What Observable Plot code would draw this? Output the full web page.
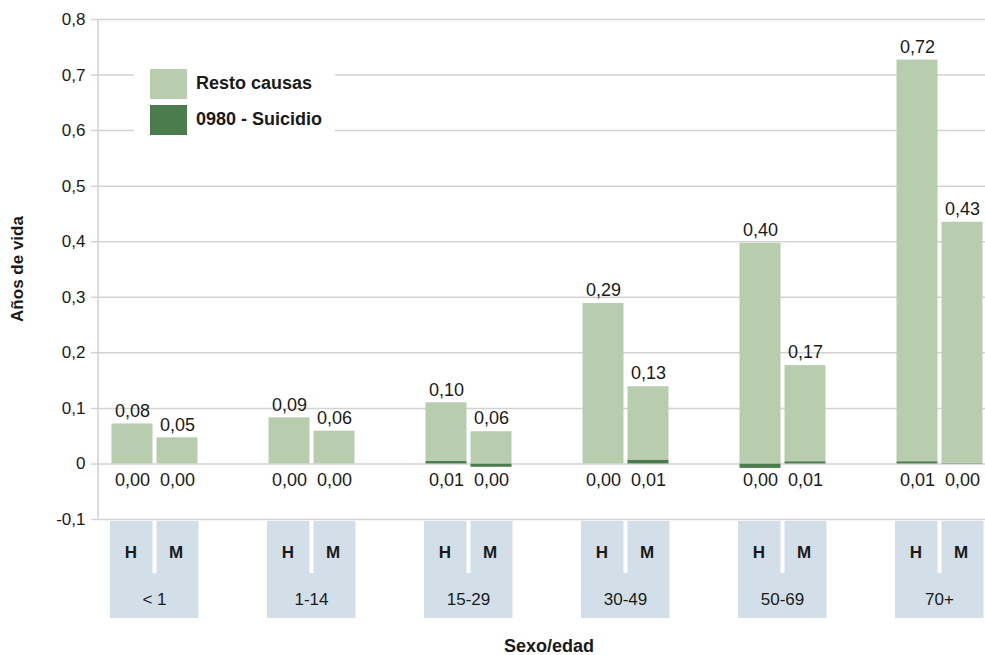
<!DOCTYPE html>
<html><head><meta charset="utf-8">
<script src="https://cdn.jsdelivr.net/npm/d3@7"></script>
<script src="https://cdn.jsdelivr.net/npm/@observablehq/plot@0.6"></script>
<style>
body{margin:0;background:#fff}
#chart{position:relative;width:985px;height:655px}
</style>
</head><body><div id="chart"></div>
<script>
// ---- data ----
const ages = ["< 1", "1-14", "15-29", "30-49", "50-69", "70+"];
const sexes = ["H", "M"];
const causes = ["0980 - Suicidio", "Resto causas"];
const restoH = [0.072, 0.083, 0.105, 0.289, 0.397, 0.723];
const restoM = [0.047, 0.059, 0.058, 0.132, 0.173, 0.434];
const suicidioH = [0, 0, 0.005, 0, -0.008, 0.004];
const suicidioM = [0, 0, -0.006, 0.007, 0.004, 0.001];
const restoLabelH = ["0,08", "0,09", "0,10", "0,29", "0,40", "0,72"];
const restoLabelM = ["0,05", "0,06", "0,06", "0,13", "0,17", "0,43"];
const suicidioLabelH = ["0,00", "0,00", "0,01", "0,00", "0,00", "0,01"];
const suicidioLabelM = ["0,00", "0,00", "0,00", "0,01", "0,01", "0,00"];
const yTicks = [-0.1, 0, 0.1, 0.2, 0.3, 0.4, 0.5, 0.6, 0.7, 0.8];
const colors = {"0980 - Suicidio": "#4a7c4d", "Resto causas": "#b8cdae"};

// ---- tidy tables ----
const bars = [];
const labels = [];
ages.forEach((age, i) => {
  const s = {H: suicidioH[i], M: suicidioM[i]};
  const r = {H: restoH[i], M: restoM[i]};
  const rl = {H: restoLabelH[i], M: restoLabelM[i]};
  const sl = {H: suicidioLabelH[i], M: suicidioLabelM[i]};
  sexes.forEach(sex => {
    bars.push({age, sex, cause: causes[0], value: s[sex]});
    bars.push({age, sex, cause: causes[1], value: r[sex]});
    labels.push({age, sex, topValue: r[sex] + Math.max(0, s[sex]), restoLabel: rl[sex], suicidioLabel: sl[sex]});
  });
});

const fmt = d => d === 0 ? "0" : d.toFixed(1).replace(".", ",");
const font = "Liberation Sans, Arial, Helvetica, sans-serif";
const ink = "#1a1a1a";
const inset = {H: [35.5, 80.5], M: [80.5, 35.5]};
const shift = {H: -22.5, M: 22.5};

const marks = [
  Plot.ruleY(yTicks, {y: d => d, stroke: "#d3d3d3", strokeWidth: 1.5, insetLeft: -7}),
  Plot.text(yTicks, {y: d => d, text: fmt, frameAnchor: "left", textAnchor: "end", dx: -13, fontSize: 17, fill: ink})
];
sexes.forEach(sex => {
  marks.push(Plot.barY(bars.filter(d => d.sex === sex), {
    x: "age", y: "value", fill: d => colors[d.cause],
    insetLeft: inset[sex][0], insetRight: inset[sex][1]
  }));
  const L = labels.filter(d => d.sex === sex);
  marks.push(Plot.text(L, {x: "age", y: "topValue", text: "restoLabel", dx: shift[sex], dy: -13, fontSize: 18, fill: ink}));
  marks.push(Plot.text(L, {x: "age", y: () => 0, text: "suicidioLabel", dx: shift[sex], dy: 16, fontSize: 18, fill: ink}));
});

const chart = Plot.plot({
  width: 985, height: 655,
  marginTop: 19, marginBottom: 136, marginLeft: 98, marginRight: 0,
  style: {fontFamily: font, fontSize: "17px", color: ink, background: "#fff"},
  x: {domain: ages, range: [76, 1018], padding: 0, axis: null},
  y: {domain: [-0.1, 0.8], axis: null},
  color: {type: "identity"},
  marks
});
document.getElementById("chart").appendChild(chart);

// ---- decorations using the plot's scales ----
const xs = chart.scale("x"), ys = chart.scale("y");
const xPos = a => xs.apply ? xs.apply(a) : xs.range[0] + ages.indexOf(a) * xs.step;
const yPos = v => ys.apply(v);
const svg = d3.select(chart);

// vertical axis line
svg.append("line").attr("x1", 98).attr("x2", 98)
  .attr("y1", yPos(0.8)).attr("y2", yPos(-0.1))
  .attr("stroke", "#cfcfcf").attr("stroke-width", 1.5);

// category boxes
const boxTop = yPos(-0.1) + 2;
ages.forEach(a => {
  const c = xPos(a) + xs.bandwidth / 2;
  const g = svg.append("g").attr("text-anchor", "middle");
  g.append("rect").attr("x", c - 44.5).attr("y", boxTop).attr("width", 88.5).attr("height", 97).attr("fill", "#d3dfe8");
  g.append("rect").attr("x", c - 2).attr("y", boxTop).attr("width", 4).attr("height", 52).attr("fill", "#fff");
  g.append("text").attr("x", c - 23.5).attr("y", boxTop + 33).attr("dominant-baseline", "middle")
    .attr("font-weight", "bold").attr("font-size", 17).attr("fill", ink).text("H");
  g.append("text").attr("x", c + 21.5).attr("y", boxTop + 33).attr("dominant-baseline", "middle")
    .attr("font-weight", "bold").attr("font-size", 17).attr("fill", ink).text("M");
  g.append("text").attr("x", c).attr("y", boxTop + 80).attr("dominant-baseline", "middle")
    .attr("font-size", 17).attr("fill", ink).text(a);
});

// legend
const lg = svg.append("g").attr("text-anchor", "start");
lg.append("rect").attr("x", 134).attr("y", 58).attr("width", 201).attr("height", 90).attr("fill", "#fff");
[["Resto causas", 69], ["0980 - Suicidio", 105]].forEach(([name, y]) => {
  lg.append("rect").attr("x", 150).attr("y", y).attr("width", 37).attr("height", 30).attr("fill", colors[name]);
  lg.append("text").attr("x", 196).attr("y", y + 15).attr("dominant-baseline", "middle").attr("text-anchor", "start")
    .attr("font-weight", "bold").attr("font-size", 18).attr("fill", ink).text(name);
});

// axis titles
svg.append("text").attr("transform", `translate(19,${yPos(0.35)}) rotate(-90)`)
  .attr("text-anchor", "middle").attr("dominant-baseline", "middle")
  .attr("font-weight", "bold").attr("font-size", 17).attr("fill", ink).text("Años de vida");
svg.append("text").attr("x", 549).attr("y", 647)
  .attr("text-anchor", "middle").attr("dominant-baseline", "middle")
  .attr("font-weight", "bold").attr("font-size", 18).attr("fill", ink).text("Sexo/edad");
</script>
</body></html>
